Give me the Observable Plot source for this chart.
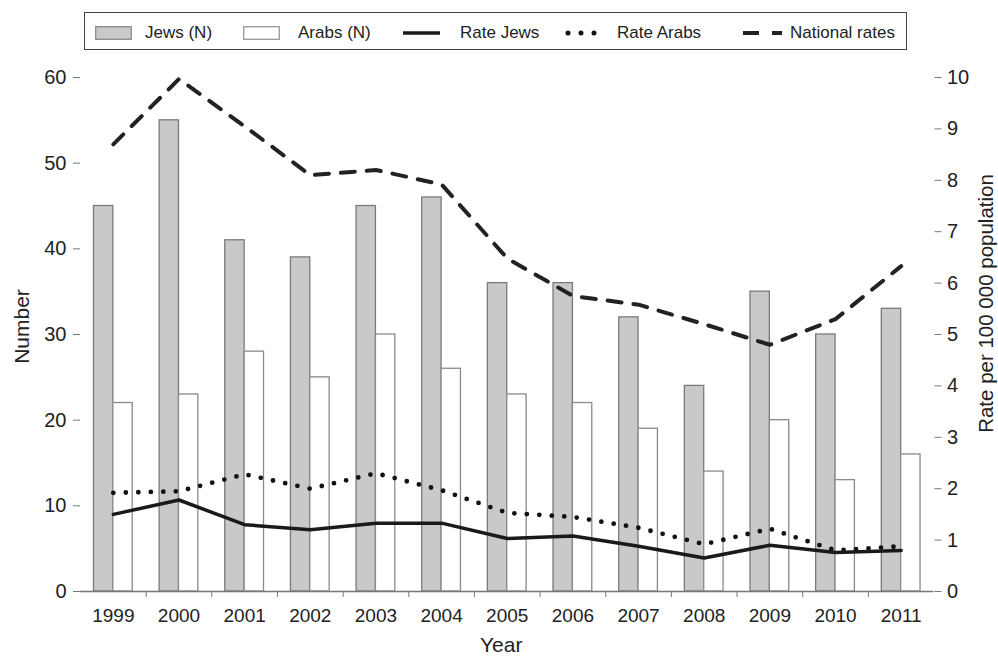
<!DOCTYPE html>
<html><head><meta charset="utf-8">
<script src="https://cdn.jsdelivr.net/npm/d3@7"></script>
<script src="https://cdn.jsdelivr.net/npm/@observablehq/plot@0.6"></script>
<style>
html,body{margin:0;padding:0;background:#fff;}
body{position:relative;width:998px;height:656px;overflow:hidden;font-family:"Liberation Sans",Arial,sans-serif;color:#222;}
#legendbox{position:absolute;left:84px;top:12px;width:821px;height:36px;border:1.5px solid #444;}
.li{position:absolute;top:13px;height:40px;display:flex;align-items:center;font-size:17px;white-space:nowrap;color:#222;}
#chart{position:absolute;left:0;top:56px;}
</style></head><body>
<div id="legendbox"></div>
<div id="legend"></div>
<div id="chart"></div>
<script>
// ---- data ----
const years = [1999, 2000, 2001, 2002, 2003, 2004, 2005, 2006, 2007, 2008, 2009, 2010, 2011];
const jewsN = [45, 55, 41, 39, 45, 46, 36, 36, 32, 24, 35, 30, 33];
const arabsN = [22, 23, 28, 25, 30, 26, 23, 22, 19, 14, 20, 13, 16];
const rateJews = [1.5, 1.78, 1.3, 1.2, 1.33, 1.33, 1.03, 1.08, 0.88, 0.65, 0.9, 0.76, 0.8];
const rateArabs = [1.92, 1.95, 2.28, 2.0, 2.3, 1.97, 1.53, 1.45, 1.24, 0.92, 1.22, 0.8, 0.88];
const nationalRates = [8.7, 9.97, 9.05, 8.1, 8.2, 7.92, 6.48, 5.75, 5.58, 5.2, 4.8, 5.3, 6.33];
const leftTicks = [0, 10, 20, 30, 40, 50, 60];
const rightTicks = [0, 1, 2, 3, 4, 5, 6, 7, 8, 9, 10];
const legendLabels = ["Jews (N)", "Arabs (N)", "Rate Jews", "Rate Arabs", "National rates"];
const axisLabels = {left: "Number", right: "Rate per 100 000 population", bottom: "Year"};

const numberMax = 60, rateMax = 10, k = numberMax / rateMax;
const data = years.map((y, i) => ({
  year: y, jews: jewsN[i], arabs: arabsN[i],
  rj: rateJews[i] * k, ra: rateArabs[i] * k, nr: nationalRates[i] * k
}));
const half = 0.295;
const font = '"Liberation Sans",Arial,sans-serif';

const chart = Plot.plot({
  width: 998, height: 600,
  marginLeft: 80, marginRight: 64.5, marginTop: 21, marginBottom: 65,
  x: {domain: [years[0] - 0.5, years[years.length - 1] + 0.5]},
  y: {domain: [0, numberMax]},
  style: {fontFamily: font, fontSize: "20px", color: "#222", background: "#fff"},
  marks: [
    Plot.rectY(data, {x1: d => d.year - half, x2: d => d.year, y: "jews", fill: "#c9c9c9", stroke: "#7a7a7a", strokeWidth: 1.3}),
    Plot.rectY(data, {x1: d => d.year, x2: d => d.year + half, y: "arabs", fill: "#fff", stroke: "#8a8a8a", strokeWidth: 1.3}),
    Plot.line(data, {x: "year", y: "nr", stroke: "#222", strokeWidth: 4, strokeDasharray: "14,12"}),
    Plot.line(data, {x: "year", y: "ra", stroke: "#111", strokeWidth: 4.8, strokeDasharray: "0,12.5", strokeLinecap: "round"}),
    Plot.line(data, {x: "year", y: "rj", stroke: "#1a1a1a", strokeWidth: 3.5}),
    Plot.ruleY([0], {stroke: "#777", strokeWidth: 1.5}),
    Plot.axisY({anchor: "left", ticks: leftTicks, tickSize: 7, tickPadding: 7, line: true, stroke: "#777", fill: "#222", label: null}),
    Plot.axisY({anchor: "right", ticks: rightTicks.map(d => d * k), tickFormat: d => String(Math.round(d / k)), tickSize: 7, tickPadding: 6, line: true, stroke: "#777", fill: "#222", label: null}),
    Plot.axisX({ticks: years.slice(0, -1).map(d => d + 0.5), tickFormat: () => "", tickSize: 6, stroke: "#777", label: null}),
    Plot.axisX({ticks: years, tickFormat: d => String(d), tickSize: 0, tickPadding: 17, fontSize: 19, fill: "#222", label: null}),
    Plot.text([axisLabels.left], {frameAnchor: "left", dx: -58, dy: -8, rotate: -90, textAnchor: "middle", lineAnchor: "middle", fontSize: 21, fill: "#222"}),
    Plot.text([axisLabels.right], {frameAnchor: "right", dx: 52.5, dy: -31, rotate: -90, textAnchor: "middle", lineAnchor: "middle", fontSize: 20.5, fill: "#222"}),
    Plot.text([axisLabels.bottom], {frameAnchor: "bottom", dx: -6, dy: 46, textAnchor: "middle", lineAnchor: "top", fontSize: 21, fill: "#222"})
  ]
});
document.getElementById("chart").appendChild(chart);

// ---- legend ----
const swatches = [
  `<svg width="37" height="14"><rect x="0.7" y="0.7" width="35.6" height="12.6" fill="#c9c9c9" stroke="#8a8a8a" stroke-width="1.3"/></svg>`,
  `<svg width="37" height="14"><rect x="0.7" y="0.7" width="35.6" height="12.6" fill="#fff" stroke="#999" stroke-width="1.3"/></svg>`,
  `<svg width="37" height="14"><line x1="0" y1="7" x2="37" y2="7" stroke="#1a1a1a" stroke-width="3.5"/></svg>`,
  `<svg width="34" height="14"><line x1="3" y1="7" x2="31" y2="7" stroke="#111" stroke-width="5" stroke-dasharray="0,13" stroke-linecap="round"/></svg>`,
  `<svg width="40" height="14"><line x1="0" y1="7" x2="40" y2="7" stroke="#222" stroke-width="4" stroke-dasharray="16,13,10,100"/></svg>`
];
const swatchX = [95, 243, 403, 565, 743];
const textX = [145, 298, 460, 617, 790];
const leg = document.getElementById("legend");
legendLabels.forEach((lab, i) => {
  const s = document.createElement("div");
  s.className = "li"; s.style.left = swatchX[i] + "px"; s.innerHTML = swatches[i];
  leg.appendChild(s);
  const t = document.createElement("div");
  t.className = "li"; t.style.left = textX[i] + "px"; t.textContent = lab;
  leg.appendChild(t);
});
</script>
</body></html>
